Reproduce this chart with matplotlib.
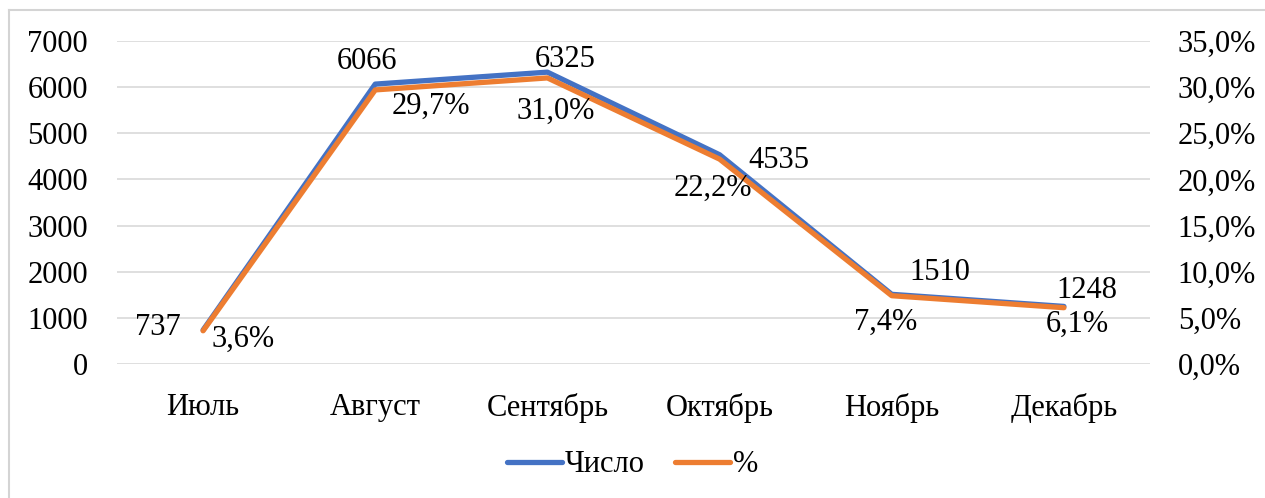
import matplotlib.pyplot as plt
from matplotlib.lines import Line2D
from matplotlib.ticker import FuncFormatter, MultipleLocator

plt.rcParams['font.family'] = ['Liberation Serif', 'DejaVu Serif']

months = ['Июль', 'Август', 'Сентябрь', 'Октябрь', 'Ноябрь', 'Декабрь']
counts = [737, 6066, 6325, 4535, 1510, 1248]
shares = [3.6, 29.7, 31.0, 22.2, 7.4, 6.1]

# label offsets in pixels (x, y) from each point
count_offsets = [(-45, 2), (-8, 23), (18, 13), (59, -6), (48, 22), (23, 16)]
share_offsets = [(40, -9), (56, -16), (8, -33), (-7, -29), (-6, -27), (13, -17)]

blue = '#4472c4'
orange = '#ed7d31'
fs = 22

fig = plt.figure(figsize=(12.65, 4.98), dpi=100)
# chart frame: only the left and top edges fall inside the image
fx, fy = 8.5 / 1265, 1 - 10.5 / 498
fig.add_artist(Line2D([fx, fx], [0, fy], transform=fig.transFigure,
                      color='#d4d4d4', lw=1.5))
fig.add_artist(Line2D([fx, 1], [fy, fy], transform=fig.transFigure,
                      color='#d4d4d4', lw=1.5))

ax = fig.add_axes([117 / 1265, 1 - 364 / 498, 1033 / 1265, 323 / 498])
ax2 = ax.twinx()

x = list(range(len(months)))
ax.plot(x, counts, color=blue, lw=3.8, solid_capstyle='round', label='Число')
ax2.plot(x, shares, color=orange, lw=3.8, solid_capstyle='round', label='%')

ax.set_xlim(-0.5, len(months) - 0.5)
ax.set_ylim(0, 7000)
ax2.set_ylim(0, 35)
ax.yaxis.set_major_locator(MultipleLocator(1000))
ax2.yaxis.set_major_locator(MultipleLocator(5))
ax2.yaxis.set_major_formatter(FuncFormatter(lambda v, p: f'{v:.1f}%'.replace('.', ',')))

ax.set_xticks(x)
ax.set_xticklabels(months)
ax.grid(axis='y', color='#d9d9d9', lw=1.2)
ax.set_axisbelow(True)

for a in (ax, ax2):
    for s in a.spines.values():
        s.set_visible(False)
ax.tick_params(axis='y', length=0, pad=21, labelsize=fs)
ax.tick_params(axis='x', length=0, pad=21, labelsize=fs)
ax2.tick_params(axis='y', length=0, pad=20, labelsize=fs)

for i, v in enumerate(counts):
    ax.annotate(str(v), (i, v), xytext=count_offsets[i], textcoords='offset pixels',
                ha='center', va='center', fontsize=fs)
for i, v in enumerate(shares):
    ax2.annotate(f'{v:.1f}%'.replace('.', ','), (i, v), xytext=share_offsets[i],
                 textcoords='offset pixels', ha='center', va='center', fontsize=fs)

h1, l1 = ax.get_legend_handles_labels()
h2, l2 = ax2.get_legend_handles_labels()
fig.legend(h1 + h2, l1 + l2, loc='center', bbox_to_anchor=(0.5, 1 - 465 / 498),
           ncol=2, frameon=False, fontsize=fs, handlelength=1.8,
           handletextpad=0.1, columnspacing=1.0)

fig.savefig('out.png', dpi=100)
